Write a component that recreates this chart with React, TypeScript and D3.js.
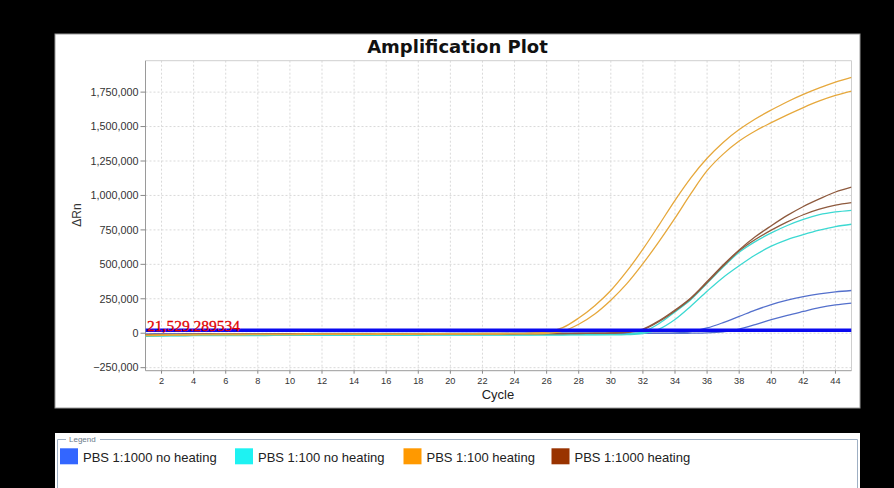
import React from "react";
import * as d3 from "d3";

// Cycle numbers on the x axis
const CYCLES = d3.range(1, 46);

// ΔRn per cycle (cycles 1..45)
const heat100A = [
  -14000, -12000, -10000, -9000, -8000, -7000, -7000, -6000, -6000, -6000,
  -5000, -5000, -5000, -5000, -4000, -4000, -4000, -4000, -3000, -3000,
  -3000, -2000, -2000, -1000, 1000, 8000, 40000, 110000, 200000, 310000,
  450000, 610000, 785000, 965000, 1130000, 1270000, 1385000, 1478000, 1555000, 1620000,
  1680000, 1733000, 1780000, 1822000, 1857000,
];
const heat100B = [
  -18000, -16000, -14000, -13000, -12000, -11000, -11000, -10000, -10000, -10000,
  -9000, -9000, -9000, -8000, -8000, -8000, -8000, -7000, -7000, -7000,
  -6000, -6000, -6000, -5000, -4000, -1000, 15000, 65000, 140000, 240000,
  360000, 505000, 665000, 835000, 1015000, 1180000, 1300000, 1395000, 1468000, 1528000,
  1585000, 1638000, 1686000, 1726000, 1757000,
];
const heat1000A = [
  -10000, -9000, -8000, -7000, -7000, -6000, -6000, -6000, -5000, -5000,
  -5000, -5000, -5000, -4000, -4000, -4000, -4000, -4000, -4000, -3000,
  -3000, -3000, -3000, -3000, -2000, -2000, -2000, -1000, 0, 2000,
  8000, 30000, 90000, 168000, 258000, 375000, 495000, 605000, 700000, 780000,
  855000, 920000, 975000, 1025000, 1060000,
];
const heat1000B = [
  -12000, -11000, -10000, -9000, -9000, -8000, -8000, -7000, -7000, -7000,
  -6000, -6000, -6000, -6000, -5000, -5000, -5000, -5000, -5000, -4000,
  -4000, -4000, -4000, -4000, -3000, -3000, -3000, -2000, -1000, 1000,
  6000, 26000, 85000, 162000, 252000, 368000, 488000, 598000, 680000, 748000,
  808000, 860000, 900000, 930000, 948000,
];
const noHeat100A = [
  -20000, -18000, -17000, -16000, -16000, -15000, -15000, -15000, -14000, -14000,
  -14000, -14000, -13000, -13000, -13000, -13000, -12000, -12000, -12000, -12000,
  -12000, -11000, -11000, -11000, -11000, -10000, -10000, -10000, -10000, -9000,
  -6000, 10000, 70000, 155000, 245000, 362000, 480000, 588000, 665000, 728000,
  782000, 826000, 860000, 880000, 892000,
];
const noHeat100B = [
  -22000, -20000, -19000, -18000, -18000, -17000, -17000, -17000, -16000, -16000,
  -16000, -16000, -16000, -15000, -15000, -15000, -15000, -15000, -14000, -14000,
  -14000, -14000, -14000, -13000, -13000, -13000, -13000, -12000, -12000, -12000,
  -10000, -2000, 30000, 100000, 198000, 305000, 405000, 490000, 568000, 632000,
  680000, 716000, 748000, 774000, 791000,
];
const noHeat1000A = [
  -6000, -5000, -5000, -4000, -4000, -4000, -3000, -3000, -3000, -3000,
  -3000, -2000, -2000, -2000, -2000, -2000, -2000, -1000, -1000, -1000,
  -1000, -1000, -1000, 0, 0, 0, 0, 0, 0, 0,
  0, 0, 0, 2000, 12000, 38000, 77000, 122000, 168000, 208000,
  240000, 265000, 285000, 300000, 310000,
];
const noHeat1000B = [
  -8000, -7000, -6000, -6000, -5000, -5000, -5000, -4000, -4000, -4000,
  -4000, -4000, -3000, -3000, -3000, -3000, -3000, -3000, -3000, -2000,
  -2000, -2000, -2000, -2000, -2000, -2000, -2000, -2000, -1000, -1000,
  -1000, -1000, -1000, -1000, 0, 2000, 10000, 30000, 62000, 98000,
  130000, 158000, 185000, 205000, 219000,
];

const THRESHOLD = 21529.289534;

const X_TICKS = [2, 4, 6, 8, 10, 12, 14, 16, 18, 20, 22, 24, 26, 28, 30, 32, 34, 36, 38, 40, 42, 44];
const Y_TICKS = [-250000, 0, 250000, 500000, 750000, 1000000, 1250000, 1500000, 1750000];

const LEGEND_NAMES = ["PBS 1:1000 no heating", "PBS 1:100 no heating", "PBS 1:100 heating", "PBS 1:1000 heating"];
const LEGEND_COLORS = ["#3366ff", "#1ef2f2", "#ff9900", "#993300"];
const LEGEND_X = [60, 235, 403.5, 551.5];

// Traces grouped by sample, drawn back to front
const TRACES = [
  { values: noHeat1000A, color: "#5470cc" },
  { values: noHeat1000B, color: "#5470cc" },
  { values: noHeat100A, color: "#3cd9d2" },
  { values: noHeat100B, color: "#3cd9d2" },
  { values: heat1000A, color: "#8e5a3e" },
  { values: heat1000B, color: "#8e5a3e" },
  { values: heat100A, color: "#e6a83c" },
  { values: heat100B, color: "#e6a83c" },
];

const W = 894;
const H = 488;
const PLOT = { left: 145.5, right: 851.5, top: 60.7, bottom: 370.7 };

export default function App() {
  const x = d3.scaleLinear().domain([1, 45]).range([PLOT.left, PLOT.right]);
  const y = d3.scaleLinear().domain([-272000, 1978000]).range([PLOT.bottom, PLOT.top]);
  const fmt = d3.format(",");

  const line = d3
    .line<number>()
    .x((_, i) => x(CYCLES[i]))
    .y((d) => y(d))
    .curve(d3.curveCatmullRom.alpha(0.5));

  const sans = "'Liberation Sans', Arial, sans-serif";

  return (
    <svg
      width={W}
      height={H}
      style={{ position: "absolute", left: 0, top: 0, display: "block" }}
    >
      <defs>
        <clipPath id="plotClip">
          <rect x={PLOT.left} y={PLOT.top} width={PLOT.right - PLOT.left} height={PLOT.bottom - PLOT.top} />
        </clipPath>
      </defs>
      <rect x={0} y={0} width={W} height={H} fill="#000" />

      {/* chart panel */}
      <rect x={55} y={34} width={805} height={374} fill="#fff" stroke="#9a9a9a" strokeWidth={1} />
      <text
        x={457.5}
        y={53.3}
        textAnchor="middle"
        fontFamily="'DejaVu Sans', Verdana, sans-serif"
        fontWeight="bold"
        fontSize={18}
        fill="#111"
      >
        Amplification Plot
      </text>

      {/* grid */}
      <g stroke="#d9d9d9" strokeWidth={1} strokeDasharray="2,2">
        {X_TICKS.map((t) => (
          <line key={"gx" + t} x1={x(t)} x2={x(t)} y1={PLOT.top} y2={PLOT.bottom} />
        ))}
        {Y_TICKS.map((t) => (
          <line key={"gy" + t} x1={PLOT.left} x2={PLOT.right} y1={y(t)} y2={y(t)} />
        ))}
      </g>

      {/* frame */}
      <line x1={PLOT.left} x2={PLOT.right} y1={PLOT.top} y2={PLOT.top} stroke="#cfcfcf" />
      <line x1={PLOT.right} x2={PLOT.right} y1={PLOT.top} y2={PLOT.bottom} stroke="#cfcfcf" />
      <line x1={PLOT.left} x2={PLOT.left} y1={PLOT.top} y2={PLOT.bottom} stroke="#9a9a9a" />
      <line x1={PLOT.left} x2={PLOT.right} y1={PLOT.bottom} y2={PLOT.bottom} stroke="#9a9a9a" />

      {/* y axis */}
      {Y_TICKS.map((t) => (
        <g key={"yt" + t}>
          <line x1={PLOT.left - 5} x2={PLOT.left} y1={y(t)} y2={y(t)} stroke="#888" />
          <text
            x={PLOT.left - 7}
            y={y(t)}
            dy="0.35em"
            textAnchor="end"
            fontFamily={sans}
            fontSize={10.8}
            fill="#333"
          >
            {fmt(t)}
          </text>
        </g>
      ))}
      <text
        transform={`translate(81,215) rotate(-90)`}
        textAnchor="middle"
        fontFamily={sans}
        fontSize={12}
        fill="#333"
      >
        ΔRn
      </text>

      {/* x axis */}
      {X_TICKS.map((t) => (
        <g key={"xt" + t}>
          <line x1={x(t)} x2={x(t)} y1={PLOT.bottom} y2={PLOT.bottom + 3} stroke="#888" />
          <text
            x={x(t)}
            y={384}
            textAnchor="middle"
            fontFamily={sans}
            fontSize={9.2}
            fill="#333"
          >
            {t}
          </text>
        </g>
      ))}
      <text x={498} y={399} textAnchor="middle" fontFamily={sans} fontSize={13} fill="#222">
        Cycle
      </text>

      {/* amplification traces */}
      <g clipPath="url(#plotClip)" fill="none">
        {TRACES.map((tr, i) => (
          <path key={"tr" + i} d={line(tr.values) || ""} stroke={tr.color} strokeWidth={1.3} />
        ))}
        <line
          x1={PLOT.left}
          x2={PLOT.right}
          y1={y(THRESHOLD)}
          y2={y(THRESHOLD)}
          stroke="#0a0af0"
          strokeWidth={3.5}
        />
      </g>
      <text
        x={147}
        y={331}
        fontFamily="'Liberation Serif', 'Times New Roman', serif"
        fontSize={15.5}
        fill="#e00000"
        stroke="#e00000"
        strokeWidth={0.3}
      >
        {fmt(THRESHOLD)}
      </text>

      {/* legend */}
      <rect x={55} y={433} width={805} height={60} fill="#fff" />
      <path
        d="M57.5,488 V439.5 H66 M100,439.5 H857.5 V488"
        fill="none"
        stroke="#9fb0c4"
        strokeWidth={1}
      />
      <text x={69} y={442} fontFamily={sans} fontSize={8} fill="#6a7a8a">
        Legend
      </text>
      {LEGEND_NAMES.map((name, i) => (
        <g key={"lg" + i}>
          <rect x={LEGEND_X[i]} y={448.3} width={18} height={16} fill={LEGEND_COLORS[i]} />
          <text
            x={LEGEND_X[i] + 23}
            y={461.5}
            fontFamily={sans}
            fontSize={13}
            fill="#222"
          >
            {name}
          </text>
        </g>
      ))}
    </svg>
  );
}
